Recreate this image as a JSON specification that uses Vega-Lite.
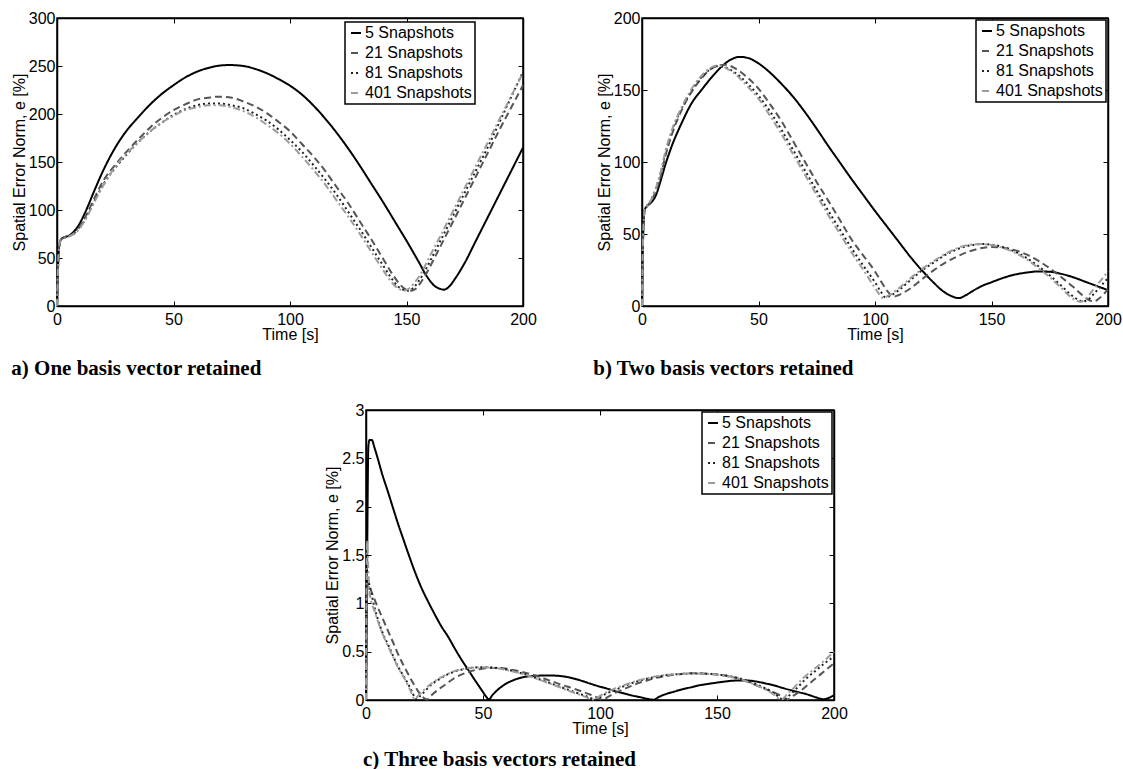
{
"$schema": "https://vega.github.io/schema/vega-lite/v6.json",
"background": "white",
"padding": {"left": 10, "top": 9, "right": 0, "bottom": 0},
"datasets": {
"a": [
{"s":"5 Snapshots","t":0,"e":0},{"s":"5 Snapshots","t":0.3,"e":30},{"s":"5 Snapshots","t":0.7,"e":55},{"s":"5 Snapshots","t":1.2,"e":66},{"s":"5 Snapshots","t":2,"e":70},{"s":"5 Snapshots","t":3.5,"e":72},{"s":"5 Snapshots","t":5,"e":73},{"s":"5 Snapshots","t":7,"e":77},{"s":"5 Snapshots","t":9,"e":83},{"s":"5 Snapshots","t":12,"e":97},{"s":"5 Snapshots","t":16,"e":120},{"s":"5 Snapshots","t":20,"e":142},{"s":"5 Snapshots","t":25,"e":165},{"s":"5 Snapshots","t":30,"e":183},{"s":"5 Snapshots","t":35,"e":197},{"s":"5 Snapshots","t":40,"e":210},{"s":"5 Snapshots","t":45,"e":221},{"s":"5 Snapshots","t":50,"e":230},{"s":"5 Snapshots","t":55,"e":238},{"s":"5 Snapshots","t":60,"e":244},{"s":"5 Snapshots","t":65,"e":248},{"s":"5 Snapshots","t":70,"e":250.5},{"s":"5 Snapshots","t":74,"e":251},{"s":"5 Snapshots","t":80,"e":250},{"s":"5 Snapshots","t":85,"e":247},{"s":"5 Snapshots","t":90,"e":242.5},{"s":"5 Snapshots","t":95,"e":236.5},{"s":"5 Snapshots","t":100,"e":229.5},{"s":"5 Snapshots","t":105,"e":220.5},{"s":"5 Snapshots","t":110,"e":209},{"s":"5 Snapshots","t":115,"e":195.5},{"s":"5 Snapshots","t":120,"e":180.5},{"s":"5 Snapshots","t":125,"e":164},{"s":"5 Snapshots","t":130,"e":146},{"s":"5 Snapshots","t":135,"e":127},{"s":"5 Snapshots","t":140,"e":108},{"s":"5 Snapshots","t":145,"e":88},{"s":"5 Snapshots","t":150,"e":68},{"s":"5 Snapshots","t":155,"e":47},{"s":"5 Snapshots","t":159,"e":30},{"s":"5 Snapshots","t":162,"e":21},{"s":"5 Snapshots","t":164.5,"e":17.8},{"s":"5 Snapshots","t":166,"e":17},{"s":"5 Snapshots","t":168,"e":19.5},{"s":"5 Snapshots","t":171,"e":29},{"s":"5 Snapshots","t":175,"e":45},{"s":"5 Snapshots","t":180,"e":69},{"s":"5 Snapshots","t":185,"e":93},{"s":"5 Snapshots","t":190,"e":117},{"s":"5 Snapshots","t":195,"e":141},{"s":"5 Snapshots","t":200,"e":165},
{"s":"21 Snapshots","t":0,"e":0},{"s":"21 Snapshots","t":0.3,"e":30},{"s":"21 Snapshots","t":0.7,"e":55},{"s":"21 Snapshots","t":1.2,"e":66},{"s":"21 Snapshots","t":2,"e":70},{"s":"21 Snapshots","t":3.5,"e":71.5},{"s":"21 Snapshots","t":5,"e":72.5},{"s":"21 Snapshots","t":7,"e":75},{"s":"21 Snapshots","t":9,"e":80},{"s":"21 Snapshots","t":12,"e":92},{"s":"21 Snapshots","t":16,"e":112},{"s":"21 Snapshots","t":20,"e":131},{"s":"21 Snapshots","t":25,"e":147},{"s":"21 Snapshots","t":30,"e":161},{"s":"21 Snapshots","t":35,"e":174},{"s":"21 Snapshots","t":40,"e":186},{"s":"21 Snapshots","t":45,"e":196},{"s":"21 Snapshots","t":50,"e":204},{"s":"21 Snapshots","t":55,"e":210},{"s":"21 Snapshots","t":60,"e":215},{"s":"21 Snapshots","t":65,"e":217},{"s":"21 Snapshots","t":69,"e":218},{"s":"21 Snapshots","t":75,"e":217},{"s":"21 Snapshots","t":80,"e":213},{"s":"21 Snapshots","t":85,"e":208},{"s":"21 Snapshots","t":90,"e":201},{"s":"21 Snapshots","t":95,"e":192},{"s":"21 Snapshots","t":100,"e":182},{"s":"21 Snapshots","t":105,"e":169},{"s":"21 Snapshots","t":110,"e":156},{"s":"21 Snapshots","t":115,"e":141},{"s":"21 Snapshots","t":120,"e":124},{"s":"21 Snapshots","t":125,"e":107},{"s":"21 Snapshots","t":130,"e":88},{"s":"21 Snapshots","t":135,"e":69},{"s":"21 Snapshots","t":140,"e":49},{"s":"21 Snapshots","t":144,"e":33},{"s":"21 Snapshots","t":147,"e":23},{"s":"21 Snapshots","t":149.5,"e":17.5},{"s":"21 Snapshots","t":152,"e":16},{"s":"21 Snapshots","t":154,"e":18},{"s":"21 Snapshots","t":156,"e":24},{"s":"21 Snapshots","t":159,"e":36},{"s":"21 Snapshots","t":162,"e":50},{"s":"21 Snapshots","t":166,"e":69},{"s":"21 Snapshots","t":170,"e":88},{"s":"21 Snapshots","t":175,"e":112},{"s":"21 Snapshots","t":180,"e":136},{"s":"21 Snapshots","t":185,"e":160},{"s":"21 Snapshots","t":190,"e":184},{"s":"21 Snapshots","t":195,"e":207},{"s":"21 Snapshots","t":200,"e":230},
{"s":"81 Snapshots","t":0,"e":0},{"s":"81 Snapshots","t":0.3,"e":30},{"s":"81 Snapshots","t":0.7,"e":55},{"s":"81 Snapshots","t":1.2,"e":66},{"s":"81 Snapshots","t":2,"e":70},{"s":"81 Snapshots","t":3.5,"e":71.5},{"s":"81 Snapshots","t":5,"e":72.5},{"s":"81 Snapshots","t":7,"e":75},{"s":"81 Snapshots","t":9,"e":79},{"s":"81 Snapshots","t":12,"e":90},{"s":"81 Snapshots","t":16,"e":109},{"s":"81 Snapshots","t":20,"e":127},{"s":"81 Snapshots","t":25,"e":144},{"s":"81 Snapshots","t":30,"e":158},{"s":"81 Snapshots","t":35,"e":171},{"s":"81 Snapshots","t":40,"e":182},{"s":"81 Snapshots","t":45,"e":191},{"s":"81 Snapshots","t":50,"e":199},{"s":"81 Snapshots","t":55,"e":205},{"s":"81 Snapshots","t":60,"e":209},{"s":"81 Snapshots","t":65,"e":211},{"s":"81 Snapshots","t":68,"e":211},{"s":"81 Snapshots","t":72,"e":210.5},{"s":"81 Snapshots","t":75,"e":209},{"s":"81 Snapshots","t":80,"e":206},{"s":"81 Snapshots","t":85,"e":200},{"s":"81 Snapshots","t":90,"e":193},{"s":"81 Snapshots","t":95,"e":184},{"s":"81 Snapshots","t":100,"e":173},{"s":"81 Snapshots","t":105,"e":161},{"s":"81 Snapshots","t":110,"e":147},{"s":"81 Snapshots","t":115,"e":132},{"s":"81 Snapshots","t":120,"e":116},{"s":"81 Snapshots","t":125,"e":98},{"s":"81 Snapshots","t":130,"e":80},{"s":"81 Snapshots","t":135,"e":61},{"s":"81 Snapshots","t":140,"e":42},{"s":"81 Snapshots","t":143.5,"e":29},{"s":"81 Snapshots","t":146.5,"e":20},{"s":"81 Snapshots","t":148.5,"e":17},{"s":"81 Snapshots","t":150.5,"e":16},{"s":"81 Snapshots","t":152.5,"e":18},{"s":"81 Snapshots","t":155,"e":25},{"s":"81 Snapshots","t":158,"e":37},{"s":"81 Snapshots","t":161,"e":51},{"s":"81 Snapshots","t":165,"e":70},{"s":"81 Snapshots","t":170,"e":94},{"s":"81 Snapshots","t":176,"e":123},{"s":"81 Snapshots","t":180,"e":142},{"s":"81 Snapshots","t":185,"e":166},{"s":"81 Snapshots","t":190,"e":192},{"s":"81 Snapshots","t":195,"e":218},{"s":"81 Snapshots","t":200,"e":244},
{"s":"401 Snapshots","t":0,"e":0},{"s":"401 Snapshots","t":0.3,"e":30},{"s":"401 Snapshots","t":0.7,"e":55},{"s":"401 Snapshots","t":1.2,"e":66},{"s":"401 Snapshots","t":2,"e":70},{"s":"401 Snapshots","t":3.5,"e":71.5},{"s":"401 Snapshots","t":5,"e":72.5},{"s":"401 Snapshots","t":7,"e":75},{"s":"401 Snapshots","t":9,"e":79},{"s":"401 Snapshots","t":12,"e":89},{"s":"401 Snapshots","t":16,"e":108},{"s":"401 Snapshots","t":20,"e":126},{"s":"401 Snapshots","t":25,"e":145},{"s":"401 Snapshots","t":30,"e":159},{"s":"401 Snapshots","t":35,"e":171},{"s":"401 Snapshots","t":40,"e":182},{"s":"401 Snapshots","t":45,"e":191},{"s":"401 Snapshots","t":50,"e":198},{"s":"401 Snapshots","t":55,"e":204},{"s":"401 Snapshots","t":60,"e":207},{"s":"401 Snapshots","t":65,"e":209},{"s":"401 Snapshots","t":70,"e":209},{"s":"401 Snapshots","t":75,"e":207},{"s":"401 Snapshots","t":80,"e":203},{"s":"401 Snapshots","t":85,"e":197},{"s":"401 Snapshots","t":90,"e":189},{"s":"401 Snapshots","t":95,"e":180},{"s":"401 Snapshots","t":100,"e":169},{"s":"401 Snapshots","t":105,"e":156},{"s":"401 Snapshots","t":110,"e":142},{"s":"401 Snapshots","t":115,"e":127},{"s":"401 Snapshots","t":120,"e":110},{"s":"401 Snapshots","t":125,"e":93},{"s":"401 Snapshots","t":130,"e":75},{"s":"401 Snapshots","t":135,"e":56},{"s":"401 Snapshots","t":139,"e":41},{"s":"401 Snapshots","t":142,"e":30},{"s":"401 Snapshots","t":145,"e":21},{"s":"401 Snapshots","t":147,"e":17.5},{"s":"401 Snapshots","t":149,"e":16},{"s":"401 Snapshots","t":151,"e":18},{"s":"401 Snapshots","t":153,"e":23},{"s":"401 Snapshots","t":156,"e":33},{"s":"401 Snapshots","t":160,"e":52},{"s":"401 Snapshots","t":165,"e":75},{"s":"401 Snapshots","t":170,"e":99},{"s":"401 Snapshots","t":175,"e":123},{"s":"401 Snapshots","t":180,"e":147},{"s":"401 Snapshots","t":185,"e":171},{"s":"401 Snapshots","t":190,"e":195},{"s":"401 Snapshots","t":195,"e":219},{"s":"401 Snapshots","t":200,"e":243}
],
"b": [
{"s":"5 Snapshots","t":0,"e":0},{"s":"5 Snapshots","t":0.3,"e":35},{"s":"5 Snapshots","t":0.7,"e":58},{"s":"5 Snapshots","t":1.2,"e":67},{"s":"5 Snapshots","t":2,"e":69},{"s":"5 Snapshots","t":4,"e":72},{"s":"5 Snapshots","t":6,"e":77},{"s":"5 Snapshots","t":8,"e":87},{"s":"5 Snapshots","t":10,"e":98},{"s":"5 Snapshots","t":13,"e":112},{"s":"5 Snapshots","t":17,"e":127},{"s":"5 Snapshots","t":21,"e":140},{"s":"5 Snapshots","t":26,"e":151},{"s":"5 Snapshots","t":30,"e":159},{"s":"5 Snapshots","t":34,"e":166},{"s":"5 Snapshots","t":38,"e":171},{"s":"5 Snapshots","t":42,"e":173},{"s":"5 Snapshots","t":46,"e":172},{"s":"5 Snapshots","t":50,"e":168.5},{"s":"5 Snapshots","t":55,"e":162},{"s":"5 Snapshots","t":60,"e":154},{"s":"5 Snapshots","t":65,"e":145},{"s":"5 Snapshots","t":70,"e":134.5},{"s":"5 Snapshots","t":75,"e":123},{"s":"5 Snapshots","t":80,"e":111},{"s":"5 Snapshots","t":85,"e":99.5},{"s":"5 Snapshots","t":90,"e":88},{"s":"5 Snapshots","t":95,"e":77},{"s":"5 Snapshots","t":100,"e":66},{"s":"5 Snapshots","t":105,"e":55.5},{"s":"5 Snapshots","t":110,"e":45},{"s":"5 Snapshots","t":115,"e":34.5},{"s":"5 Snapshots","t":120,"e":25},{"s":"5 Snapshots","t":125,"e":16.5},{"s":"5 Snapshots","t":129,"e":10.5},{"s":"5 Snapshots","t":132,"e":7.5},{"s":"5 Snapshots","t":136,"e":5.5},{"s":"5 Snapshots","t":139,"e":7.5},{"s":"5 Snapshots","t":142,"e":10.5},{"s":"5 Snapshots","t":146,"e":14},{"s":"5 Snapshots","t":150,"e":16.5},{"s":"5 Snapshots","t":155,"e":19.5},{"s":"5 Snapshots","t":160,"e":21.8},{"s":"5 Snapshots","t":165,"e":23.2},{"s":"5 Snapshots","t":170,"e":24},{"s":"5 Snapshots","t":175,"e":23.8},{"s":"5 Snapshots","t":180,"e":22.3},{"s":"5 Snapshots","t":185,"e":20},{"s":"5 Snapshots","t":190,"e":17},{"s":"5 Snapshots","t":195,"e":14},{"s":"5 Snapshots","t":200,"e":11},
{"s":"21 Snapshots","t":0,"e":0},{"s":"21 Snapshots","t":0.3,"e":35},{"s":"21 Snapshots","t":0.7,"e":58},{"s":"21 Snapshots","t":1.2,"e":67},{"s":"21 Snapshots","t":2,"e":69},{"s":"21 Snapshots","t":4,"e":73},{"s":"21 Snapshots","t":6,"e":80},{"s":"21 Snapshots","t":8,"e":90},{"s":"21 Snapshots","t":10,"e":104},{"s":"21 Snapshots","t":13,"e":120},{"s":"21 Snapshots","t":17,"e":136},{"s":"21 Snapshots","t":21,"e":148},{"s":"21 Snapshots","t":25,"e":157},{"s":"21 Snapshots","t":29,"e":164},{"s":"21 Snapshots","t":33,"e":167},{"s":"21 Snapshots","t":36,"e":167.5},{"s":"21 Snapshots","t":40,"e":165},{"s":"21 Snapshots","t":45,"e":159},{"s":"21 Snapshots","t":50,"e":151},{"s":"21 Snapshots","t":55,"e":140},{"s":"21 Snapshots","t":60,"e":128},{"s":"21 Snapshots","t":65,"e":114},{"s":"21 Snapshots","t":70,"e":100},{"s":"21 Snapshots","t":75,"e":86},{"s":"21 Snapshots","t":80,"e":73},{"s":"21 Snapshots","t":85,"e":59.5},{"s":"21 Snapshots","t":90,"e":46},{"s":"21 Snapshots","t":95,"e":35},{"s":"21 Snapshots","t":100,"e":24},{"s":"21 Snapshots","t":103,"e":16},{"s":"21 Snapshots","t":105.5,"e":10},{"s":"21 Snapshots","t":108,"e":6.5},{"s":"21 Snapshots","t":110,"e":7.5},{"s":"21 Snapshots","t":115,"e":12},{"s":"21 Snapshots","t":120,"e":18.4},{"s":"21 Snapshots","t":125,"e":24.6},{"s":"21 Snapshots","t":130,"e":30},{"s":"21 Snapshots","t":135,"e":34.2},{"s":"21 Snapshots","t":140,"e":37.7},{"s":"21 Snapshots","t":145,"e":40},{"s":"21 Snapshots","t":150,"e":41},{"s":"21 Snapshots","t":155,"e":40.5},{"s":"21 Snapshots","t":160,"e":38.8},{"s":"21 Snapshots","t":165,"e":35.8},{"s":"21 Snapshots","t":170,"e":31.5},{"s":"21 Snapshots","t":175,"e":26.2},{"s":"21 Snapshots","t":180,"e":20},{"s":"21 Snapshots","t":185,"e":13.3},{"s":"21 Snapshots","t":189,"e":7.5},{"s":"21 Snapshots","t":192,"e":4},{"s":"21 Snapshots","t":194,"e":3.2},{"s":"21 Snapshots","t":196,"e":5},{"s":"21 Snapshots","t":198,"e":8},{"s":"21 Snapshots","t":200,"e":11.5},
{"s":"81 Snapshots","t":0,"e":0},{"s":"81 Snapshots","t":0.3,"e":35},{"s":"81 Snapshots","t":0.7,"e":58},{"s":"81 Snapshots","t":1.2,"e":67},{"s":"81 Snapshots","t":2,"e":69},{"s":"81 Snapshots","t":4,"e":74},{"s":"81 Snapshots","t":6,"e":82},{"s":"81 Snapshots","t":8,"e":92},{"s":"81 Snapshots","t":10,"e":106},{"s":"81 Snapshots","t":13,"e":122},{"s":"81 Snapshots","t":17,"e":137},{"s":"81 Snapshots","t":21,"e":149},{"s":"81 Snapshots","t":25,"e":158},{"s":"81 Snapshots","t":29,"e":164},{"s":"81 Snapshots","t":32,"e":166.5},{"s":"81 Snapshots","t":35,"e":166},{"s":"81 Snapshots","t":40,"e":162},{"s":"81 Snapshots","t":45,"e":155},{"s":"81 Snapshots","t":50,"e":146},{"s":"81 Snapshots","t":55,"e":135},{"s":"81 Snapshots","t":60,"e":122},{"s":"81 Snapshots","t":65,"e":108},{"s":"81 Snapshots","t":70,"e":94},{"s":"81 Snapshots","t":75,"e":80},{"s":"81 Snapshots","t":80,"e":66},{"s":"81 Snapshots","t":85,"e":53},{"s":"81 Snapshots","t":90,"e":40},{"s":"81 Snapshots","t":95,"e":28},{"s":"81 Snapshots","t":100,"e":16.5},{"s":"81 Snapshots","t":102.5,"e":10},{"s":"81 Snapshots","t":104.5,"e":6},{"s":"81 Snapshots","t":107,"e":7.5},{"s":"81 Snapshots","t":110,"e":10.7},{"s":"81 Snapshots","t":115,"e":17.7},{"s":"81 Snapshots","t":120,"e":24.5},{"s":"81 Snapshots","t":125,"e":30},{"s":"81 Snapshots","t":130,"e":35.3},{"s":"81 Snapshots","t":135,"e":39.2},{"s":"81 Snapshots","t":140,"e":41.8},{"s":"81 Snapshots","t":146,"e":43},{"s":"81 Snapshots","t":150,"e":42.6},{"s":"81 Snapshots","t":155,"e":40.9},{"s":"81 Snapshots","t":160,"e":37.8},{"s":"81 Snapshots","t":165,"e":33.4},{"s":"81 Snapshots","t":170,"e":27.8},{"s":"81 Snapshots","t":175,"e":21.2},{"s":"81 Snapshots","t":180,"e":14},{"s":"81 Snapshots","t":184,"e":8},{"s":"81 Snapshots","t":187,"e":4.5},{"s":"81 Snapshots","t":189,"e":3.2},{"s":"81 Snapshots","t":191.5,"e":4.5},{"s":"81 Snapshots","t":194,"e":8.5},{"s":"81 Snapshots","t":197,"e":14},{"s":"81 Snapshots","t":200,"e":19.5},
{"s":"401 Snapshots","t":0,"e":0},{"s":"401 Snapshots","t":0.3,"e":35},{"s":"401 Snapshots","t":0.7,"e":58},{"s":"401 Snapshots","t":1.2,"e":67},{"s":"401 Snapshots","t":2,"e":69},{"s":"401 Snapshots","t":4,"e":74},{"s":"401 Snapshots","t":6,"e":82},{"s":"401 Snapshots","t":8,"e":93},{"s":"401 Snapshots","t":10,"e":107},{"s":"401 Snapshots","t":13,"e":123},{"s":"401 Snapshots","t":17,"e":138},{"s":"401 Snapshots","t":21,"e":150},{"s":"401 Snapshots","t":25,"e":159},{"s":"401 Snapshots","t":29,"e":165},{"s":"401 Snapshots","t":32,"e":167},{"s":"401 Snapshots","t":35,"e":166},{"s":"401 Snapshots","t":40,"e":161},{"s":"401 Snapshots","t":45,"e":153},{"s":"401 Snapshots","t":50,"e":144},{"s":"401 Snapshots","t":55,"e":132},{"s":"401 Snapshots","t":60,"e":119},{"s":"401 Snapshots","t":65,"e":105},{"s":"401 Snapshots","t":70,"e":91},{"s":"401 Snapshots","t":75,"e":77},{"s":"401 Snapshots","t":80,"e":63},{"s":"401 Snapshots","t":85,"e":50},{"s":"401 Snapshots","t":90,"e":37},{"s":"401 Snapshots","t":95,"e":25},{"s":"401 Snapshots","t":99,"e":15},{"s":"401 Snapshots","t":101.5,"e":9},{"s":"401 Snapshots","t":103.5,"e":5.5},{"s":"401 Snapshots","t":106,"e":7.5},{"s":"401 Snapshots","t":110,"e":12},{"s":"401 Snapshots","t":115,"e":19},{"s":"401 Snapshots","t":120,"e":25.5},{"s":"401 Snapshots","t":125,"e":31},{"s":"401 Snapshots","t":130,"e":36},{"s":"401 Snapshots","t":135,"e":40},{"s":"401 Snapshots","t":140,"e":42.3},{"s":"401 Snapshots","t":145,"e":43},{"s":"401 Snapshots","t":150,"e":42.3},{"s":"401 Snapshots","t":155,"e":40.3},{"s":"401 Snapshots","t":160,"e":37},{"s":"401 Snapshots","t":165,"e":32.5},{"s":"401 Snapshots","t":170,"e":26.5},{"s":"401 Snapshots","t":175,"e":20},{"s":"401 Snapshots","t":180,"e":12.5},{"s":"401 Snapshots","t":183.5,"e":7},{"s":"401 Snapshots","t":186,"e":4},{"s":"401 Snapshots","t":188,"e":3},{"s":"401 Snapshots","t":190.5,"e":5},{"s":"401 Snapshots","t":193,"e":10},{"s":"401 Snapshots","t":196.5,"e":17},{"s":"401 Snapshots","t":200,"e":24}
],
"c": [
{"s":"5 Snapshots","t":0,"e":0},{"s":"5 Snapshots","t":0.5,"e":1.5},{"s":"5 Snapshots","t":1,"e":2.62},{"s":"5 Snapshots","t":1.5,"e":2.69},{"s":"5 Snapshots","t":2.5,"e":2.69},{"s":"5 Snapshots","t":3.5,"e":2.62},{"s":"5 Snapshots","t":5,"e":2.5},{"s":"5 Snapshots","t":7,"e":2.33},{"s":"5 Snapshots","t":9.3,"e":2.16},{"s":"5 Snapshots","t":11.5,"e":1.99},{"s":"5 Snapshots","t":13.6,"e":1.83},{"s":"5 Snapshots","t":16,"e":1.66},{"s":"5 Snapshots","t":18,"e":1.52},{"s":"5 Snapshots","t":21,"e":1.32},{"s":"5 Snapshots","t":23.7,"e":1.16},{"s":"5 Snapshots","t":26.5,"e":1.02},{"s":"5 Snapshots","t":29.5,"e":0.88},{"s":"5 Snapshots","t":32,"e":0.77},{"s":"5 Snapshots","t":35.2,"e":0.65},{"s":"5 Snapshots","t":38,"e":0.53},{"s":"5 Snapshots","t":41,"e":0.41},{"s":"5 Snapshots","t":44,"e":0.3},{"s":"5 Snapshots","t":46.7,"e":0.2},{"s":"5 Snapshots","t":49.5,"e":0.1},{"s":"5 Snapshots","t":51.5,"e":0.03},{"s":"5 Snapshots","t":52.5,"e":0.005},{"s":"5 Snapshots","t":54,"e":0.05},{"s":"5 Snapshots","t":56.5,"e":0.11},{"s":"5 Snapshots","t":59.6,"e":0.165},{"s":"5 Snapshots","t":63,"e":0.205},{"s":"5 Snapshots","t":66.8,"e":0.234},{"s":"5 Snapshots","t":70,"e":0.246},{"s":"5 Snapshots","t":74,"e":0.252},{"s":"5 Snapshots","t":78,"e":0.254},{"s":"5 Snapshots","t":81,"e":0.252},{"s":"5 Snapshots","t":85,"e":0.242},{"s":"5 Snapshots","t":88,"e":0.227},{"s":"5 Snapshots","t":92,"e":0.2},{"s":"5 Snapshots","t":95.5,"e":0.172},{"s":"5 Snapshots","t":99,"e":0.145},{"s":"5 Snapshots","t":102.7,"e":0.12},{"s":"5 Snapshots","t":106,"e":0.095},{"s":"5 Snapshots","t":110,"e":0.07},{"s":"5 Snapshots","t":114,"e":0.045},{"s":"5 Snapshots","t":117,"e":0.03},{"s":"5 Snapshots","t":120,"e":0.013},{"s":"5 Snapshots","t":123,"e":0.003},{"s":"5 Snapshots","t":125,"e":0.03},{"s":"5 Snapshots","t":128,"e":0.06},{"s":"5 Snapshots","t":131.5,"e":0.085},{"s":"5 Snapshots","t":135,"e":0.11},{"s":"5 Snapshots","t":138.6,"e":0.13},{"s":"5 Snapshots","t":142,"e":0.15},{"s":"5 Snapshots","t":145.8,"e":0.165},{"s":"5 Snapshots","t":150,"e":0.18},{"s":"5 Snapshots","t":153,"e":0.19},{"s":"5 Snapshots","t":157,"e":0.2},{"s":"5 Snapshots","t":160,"e":0.203},{"s":"5 Snapshots","t":164,"e":0.2},{"s":"5 Snapshots","t":167,"e":0.19},{"s":"5 Snapshots","t":171,"e":0.17},{"s":"5 Snapshots","t":174.6,"e":0.15},{"s":"5 Snapshots","t":178,"e":0.125},{"s":"5 Snapshots","t":181.8,"e":0.1},{"s":"5 Snapshots","t":185,"e":0.08},{"s":"5 Snapshots","t":189,"e":0.055},{"s":"5 Snapshots","t":192,"e":0.03},{"s":"5 Snapshots","t":195.4,"e":0.008},{"s":"5 Snapshots","t":197,"e":0.015},{"s":"5 Snapshots","t":200,"e":0.05},
{"s":"21 Snapshots","t":0,"e":0},{"s":"21 Snapshots","t":0.3,"e":0.9},{"s":"21 Snapshots","t":0.8,"e":1.2},{"s":"21 Snapshots","t":1.5,"e":1.17},{"s":"21 Snapshots","t":2.2,"e":1.13},{"s":"21 Snapshots","t":3.5,"e":1.05},{"s":"21 Snapshots","t":5,"e":0.96},{"s":"21 Snapshots","t":7,"e":0.85},{"s":"21 Snapshots","t":9.3,"e":0.72},{"s":"21 Snapshots","t":11.5,"e":0.6},{"s":"21 Snapshots","t":13.6,"e":0.48},{"s":"21 Snapshots","t":16,"e":0.36},{"s":"21 Snapshots","t":18,"e":0.27},{"s":"21 Snapshots","t":20,"e":0.18},{"s":"21 Snapshots","t":22.3,"e":0.09},{"s":"21 Snapshots","t":24.3,"e":0.03},{"s":"21 Snapshots","t":26,"e":0.005},{"s":"21 Snapshots","t":28,"e":0.05},{"s":"21 Snapshots","t":31,"e":0.11},{"s":"21 Snapshots","t":34.5,"e":0.17},{"s":"21 Snapshots","t":38,"e":0.23},{"s":"21 Snapshots","t":41.5,"e":0.27},{"s":"21 Snapshots","t":45,"e":0.3},{"s":"21 Snapshots","t":48.5,"e":0.318},{"s":"21 Snapshots","t":52,"e":0.33},{"s":"21 Snapshots","t":55.5,"e":0.332},{"s":"21 Snapshots","t":59.6,"e":0.327},{"s":"21 Snapshots","t":63,"e":0.31},{"s":"21 Snapshots","t":66.8,"e":0.29},{"s":"21 Snapshots","t":70,"e":0.27},{"s":"21 Snapshots","t":74,"e":0.24},{"s":"21 Snapshots","t":77.5,"e":0.21},{"s":"21 Snapshots","t":81,"e":0.18},{"s":"21 Snapshots","t":84.5,"e":0.15},{"s":"21 Snapshots","t":88,"e":0.124},{"s":"21 Snapshots","t":92,"e":0.09},{"s":"21 Snapshots","t":95.5,"e":0.06},{"s":"21 Snapshots","t":98.5,"e":0.03},{"s":"21 Snapshots","t":101,"e":0.005},{"s":"21 Snapshots","t":104,"e":0.04},{"s":"21 Snapshots","t":107,"e":0.08},{"s":"21 Snapshots","t":112,"e":0.13},{"s":"21 Snapshots","t":117,"e":0.18},{"s":"21 Snapshots","t":120.5,"e":0.205},{"s":"21 Snapshots","t":124,"e":0.23},{"s":"21 Snapshots","t":130,"e":0.255},{"s":"21 Snapshots","t":135,"e":0.27},{"s":"21 Snapshots","t":140,"e":0.278},{"s":"21 Snapshots","t":146,"e":0.272},{"s":"21 Snapshots","t":150,"e":0.265},{"s":"21 Snapshots","t":153,"e":0.255},{"s":"21 Snapshots","t":157,"e":0.235},{"s":"21 Snapshots","t":160,"e":0.215},{"s":"21 Snapshots","t":163.5,"e":0.185},{"s":"21 Snapshots","t":167,"e":0.15},{"s":"21 Snapshots","t":171,"e":0.11},{"s":"21 Snapshots","t":174.6,"e":0.075},{"s":"21 Snapshots","t":177.5,"e":0.04},{"s":"21 Snapshots","t":180,"e":0.005},{"s":"21 Snapshots","t":183,"e":0.05},{"s":"21 Snapshots","t":186,"e":0.1},{"s":"21 Snapshots","t":189,"e":0.16},{"s":"21 Snapshots","t":192.5,"e":0.23},{"s":"21 Snapshots","t":196,"e":0.3},{"s":"21 Snapshots","t":200,"e":0.38},
{"s":"81 Snapshots","t":0,"e":0},{"s":"81 Snapshots","t":0.3,"e":0.9},{"s":"81 Snapshots","t":0.8,"e":1.25},{"s":"81 Snapshots","t":1.4,"e":1.2},{"s":"81 Snapshots","t":2.5,"e":1.08},{"s":"81 Snapshots","t":3.5,"e":0.97},{"s":"81 Snapshots","t":5,"e":0.84},{"s":"81 Snapshots","t":7,"e":0.7},{"s":"81 Snapshots","t":9.3,"e":0.58},{"s":"81 Snapshots","t":11.5,"e":0.46},{"s":"81 Snapshots","t":13.6,"e":0.35},{"s":"81 Snapshots","t":16,"e":0.25},{"s":"81 Snapshots","t":18,"e":0.165},{"s":"81 Snapshots","t":19.8,"e":0.08},{"s":"81 Snapshots","t":21.3,"e":0.01},{"s":"81 Snapshots","t":23,"e":0.04},{"s":"81 Snapshots","t":25.5,"e":0.1},{"s":"81 Snapshots","t":28,"e":0.16},{"s":"81 Snapshots","t":31,"e":0.21},{"s":"81 Snapshots","t":34.5,"e":0.26},{"s":"81 Snapshots","t":38,"e":0.295},{"s":"81 Snapshots","t":42,"e":0.32},{"s":"81 Snapshots","t":46,"e":0.335},{"s":"81 Snapshots","t":50,"e":0.34},{"s":"81 Snapshots","t":54,"e":0.337},{"s":"81 Snapshots","t":58,"e":0.325},{"s":"81 Snapshots","t":62,"e":0.305},{"s":"81 Snapshots","t":66,"e":0.28},{"s":"81 Snapshots","t":70,"e":0.25},{"s":"81 Snapshots","t":74,"e":0.215},{"s":"81 Snapshots","t":78,"e":0.18},{"s":"81 Snapshots","t":82,"e":0.145},{"s":"81 Snapshots","t":86,"e":0.11},{"s":"81 Snapshots","t":90,"e":0.075},{"s":"81 Snapshots","t":93.5,"e":0.045},{"s":"81 Snapshots","t":96.5,"e":0.015},{"s":"81 Snapshots","t":98,"e":0.005},{"s":"81 Snapshots","t":100,"e":0.03},{"s":"81 Snapshots","t":103,"e":0.07},{"s":"81 Snapshots","t":107,"e":0.11},{"s":"81 Snapshots","t":112,"e":0.16},{"s":"81 Snapshots","t":117,"e":0.2},{"s":"81 Snapshots","t":122,"e":0.23},{"s":"81 Snapshots","t":127,"e":0.252},{"s":"81 Snapshots","t":132,"e":0.265},{"s":"81 Snapshots","t":137,"e":0.272},{"s":"81 Snapshots","t":142,"e":0.274},{"s":"81 Snapshots","t":147,"e":0.27},{"s":"81 Snapshots","t":152,"e":0.258},{"s":"81 Snapshots","t":157,"e":0.24},{"s":"81 Snapshots","t":161,"e":0.215},{"s":"81 Snapshots","t":165,"e":0.18},{"s":"81 Snapshots","t":169,"e":0.14},{"s":"81 Snapshots","t":172.5,"e":0.1},{"s":"81 Snapshots","t":175,"e":0.06},{"s":"81 Snapshots","t":177,"e":0.02},{"s":"81 Snapshots","t":178.5,"e":0.005},{"s":"81 Snapshots","t":181,"e":0.05},{"s":"81 Snapshots","t":184,"e":0.12},{"s":"81 Snapshots","t":188,"e":0.22},{"s":"81 Snapshots","t":192,"e":0.3},{"s":"81 Snapshots","t":196,"e":0.38},{"s":"81 Snapshots","t":200,"e":0.45},
{"s":"401 Snapshots","t":0,"e":0},{"s":"401 Snapshots","t":0.2,"e":1.0},{"s":"401 Snapshots","t":0.5,"e":1.65},{"s":"401 Snapshots","t":0.9,"e":1.4},{"s":"401 Snapshots","t":1.5,"e":1.12},{"s":"401 Snapshots","t":2.5,"e":1.0},{"s":"401 Snapshots","t":3.5,"e":0.93},{"s":"401 Snapshots","t":5,"e":0.82},{"s":"401 Snapshots","t":7,"e":0.69},{"s":"401 Snapshots","t":9.3,"e":0.56},{"s":"401 Snapshots","t":11.5,"e":0.45},{"s":"401 Snapshots","t":13.6,"e":0.34},{"s":"401 Snapshots","t":16,"e":0.24},{"s":"401 Snapshots","t":18,"e":0.15},{"s":"401 Snapshots","t":19.5,"e":0.07},{"s":"401 Snapshots","t":20.8,"e":0.01},{"s":"401 Snapshots","t":22.5,"e":0.05},{"s":"401 Snapshots","t":25,"e":0.11},{"s":"401 Snapshots","t":28,"e":0.17},{"s":"401 Snapshots","t":31,"e":0.22},{"s":"401 Snapshots","t":34.5,"e":0.265},{"s":"401 Snapshots","t":38,"e":0.3},{"s":"401 Snapshots","t":42,"e":0.323},{"s":"401 Snapshots","t":46,"e":0.335},{"s":"401 Snapshots","t":50,"e":0.338},{"s":"401 Snapshots","t":54,"e":0.333},{"s":"401 Snapshots","t":58,"e":0.32},{"s":"401 Snapshots","t":62,"e":0.3},{"s":"401 Snapshots","t":66,"e":0.275},{"s":"401 Snapshots","t":70,"e":0.245},{"s":"401 Snapshots","t":74,"e":0.21},{"s":"401 Snapshots","t":78,"e":0.175},{"s":"401 Snapshots","t":82,"e":0.14},{"s":"401 Snapshots","t":86,"e":0.1},{"s":"401 Snapshots","t":90,"e":0.065},{"s":"401 Snapshots","t":93.5,"e":0.035},{"s":"401 Snapshots","t":96,"e":0.01},{"s":"401 Snapshots","t":97.5,"e":0.005},{"s":"401 Snapshots","t":99.5,"e":0.035},{"s":"401 Snapshots","t":102.5,"e":0.075},{"s":"401 Snapshots","t":106.5,"e":0.12},{"s":"401 Snapshots","t":111,"e":0.16},{"s":"401 Snapshots","t":116,"e":0.2},{"s":"401 Snapshots","t":121,"e":0.23},{"s":"401 Snapshots","t":126,"e":0.252},{"s":"401 Snapshots","t":131,"e":0.265},{"s":"401 Snapshots","t":136,"e":0.272},{"s":"401 Snapshots","t":141,"e":0.274},{"s":"401 Snapshots","t":146,"e":0.27},{"s":"401 Snapshots","t":151,"e":0.258},{"s":"401 Snapshots","t":156,"e":0.238},{"s":"401 Snapshots","t":160,"e":0.215},{"s":"401 Snapshots","t":164,"e":0.18},{"s":"401 Snapshots","t":168,"e":0.14},{"s":"401 Snapshots","t":171.5,"e":0.1},{"s":"401 Snapshots","t":174,"e":0.06},{"s":"401 Snapshots","t":176,"e":0.02},{"s":"401 Snapshots","t":177.5,"e":0.005},{"s":"401 Snapshots","t":180,"e":0.06},{"s":"401 Snapshots","t":183,"e":0.13},{"s":"401 Snapshots","t":187,"e":0.23},{"s":"401 Snapshots","t":191,"e":0.31},{"s":"401 Snapshots","t":195.5,"e":0.4},{"s":"401 Snapshots","t":200,"e":0.5}
]
},
"vconcat": [
{
"hconcat": [
{
"width": 466, "height": 288,
"data": {"name": "a"},
"title": {"text": "a) One basis vector retained", "orient": "bottom", "anchor": "start", "frame": "bounds", "offset": 16, "dx": 0},
"layer": [
{"mark": {"type": "line", "strokeWidth": 2, "interpolate": "monotone"},
"encoding": {
"x": {"field": "t", "type": "quantitative", "scale": {"domain": [0, 200], "nice": false}, "axis": {"orient": "bottom", "title": "Time [s]", "values": [0, 50, 100, 150, 200]}},
"y": {"field": "e", "type": "quantitative", "scale": {"domain": [0, 300], "nice": false}, "axis": {"orient": "left", "title": "Spatial Error Norm, e [%]", "values": [0, 50, 100, 150, 200, 250, 300]}},
"color": {"field": "s", "type": "nominal", "scale": {"domain": ["5 Snapshots", "21 Snapshots", "81 Snapshots", "401 Snapshots"], "range": ["#000000", "#555555", "#222222", "#9c9c9c"]}, "legend": {"title": null, "orient": "none", "legendX": 288, "legendY": 4}},
"strokeDash": {"field": "s", "type": "nominal", "scale": {"domain": ["5 Snapshots", "21 Snapshots", "81 Snapshots", "401 Snapshots"], "range": [[1, 0], [7, 4], [2, 3], [7, 3, 2, 3]]}, "legend": {"title": null, "orient": "none", "legendX": 288, "legendY": 4}}
}},
{"mark": {"type": "point", "opacity": 0},
"encoding": {
"x": {"field": "t", "type": "quantitative", "scale": {"domain": [0, 200], "nice": false}, "axis": {"orient": "top", "labels": false, "title": null, "values": [0, 50, 100, 150, 200]}},
"y": {"field": "e", "type": "quantitative", "scale": {"domain": [0, 300], "nice": false}, "axis": {"orient": "right", "labels": false, "title": null, "values": [0, 50, 100, 150, 200, 250, 300]}}
}}
],
"resolve": {"axis": {"x": "independent", "y": "independent"}}
},
{
"width": 466, "height": 288,
"data": {"name": "b"},
"title": {"text": "b) Two basis vectors retained", "orient": "bottom", "anchor": "start", "frame": "bounds", "offset": 16, "dx": -3},
"layer": [
{"mark": {"type": "line", "strokeWidth": 2, "interpolate": "monotone"},
"encoding": {
"x": {"field": "t", "type": "quantitative", "scale": {"domain": [0, 200], "nice": false}, "axis": {"orient": "bottom", "title": "Time [s]", "values": [0, 50, 100, 150, 200]}},
"y": {"field": "e", "type": "quantitative", "scale": {"domain": [0, 200], "nice": false}, "axis": {"orient": "left", "title": "Spatial Error Norm, e [%]", "values": [0, 50, 100, 150, 200]}},
"color": {"field": "s", "type": "nominal", "scale": {"domain": ["5 Snapshots", "21 Snapshots", "81 Snapshots", "401 Snapshots"], "range": ["#000000", "#555555", "#222222", "#9c9c9c"]}, "legend": {"title": null, "orient": "top-right", "offset": 2}},
"strokeDash": {"field": "s", "type": "nominal", "scale": {"domain": ["5 Snapshots", "21 Snapshots", "81 Snapshots", "401 Snapshots"], "range": [[1, 0], [7, 4], [2, 3], [7, 3, 2, 3]]}, "legend": {"title": null, "orient": "top-right", "offset": 2}}
}},
{"mark": {"type": "point", "opacity": 0},
"encoding": {
"x": {"field": "t", "type": "quantitative", "scale": {"domain": [0, 200], "nice": false}, "axis": {"orient": "top", "labels": false, "title": null, "values": [0, 50, 100, 150, 200]}},
"y": {"field": "e", "type": "quantitative", "scale": {"domain": [0, 200], "nice": false}, "axis": {"orient": "right", "labels": false, "title": null, "values": [0, 50, 100, 150, 200]}}
}}
],
"resolve": {"axis": {"x": "independent", "y": "independent"}}
}
],
"spacing": 54,
"resolve": {"scale": {"color": "independent", "strokeDash": "independent"}}
},
{
"hconcat": [
{
"width": 267, "height": 10,
"view": {"stroke": null},
"data": {"values": [{"k": 0}]},
"mark": {"type": "point", "opacity": 0}
},
{
"width": 468, "height": 290,
"data": {"name": "c"},
"title": {"text": "c) Three basis vectors retained", "orient": "bottom", "anchor": "start", "frame": "group", "offset": 13, "dx": -3},
"layer": [
{"mark": {"type": "line", "strokeWidth": 2, "interpolate": "monotone"},
"encoding": {
"x": {"field": "t", "type": "quantitative", "scale": {"domain": [0, 200], "nice": false}, "axis": {"orient": "bottom", "title": "Time [s]", "values": [0, 50, 100, 150, 200]}},
"y": {"field": "e", "type": "quantitative", "scale": {"domain": [0, 3], "nice": false}, "axis": {"orient": "left", "title": "Spatial Error Norm, e [%]", "values": [0, 0.5, 1, 1.5, 2, 2.5, 3], "format": "~g"}},
"color": {"field": "s", "type": "nominal", "scale": {"domain": ["5 Snapshots", "21 Snapshots", "81 Snapshots", "401 Snapshots"], "range": ["#000000", "#555555", "#222222", "#9c9c9c"]}, "legend": {"title": null, "orient": "top-right", "offset": 2}},
"strokeDash": {"field": "s", "type": "nominal", "scale": {"domain": ["5 Snapshots", "21 Snapshots", "81 Snapshots", "401 Snapshots"], "range": [[1, 0], [7, 4], [2, 3], [7, 3, 2, 3]]}, "legend": {"title": null, "orient": "top-right", "offset": 2}}
}},
{"mark": {"type": "point", "opacity": 0},
"encoding": {
"x": {"field": "t", "type": "quantitative", "scale": {"domain": [0, 200], "nice": false}, "axis": {"orient": "top", "labels": false, "title": null, "values": [0, 50, 100, 150, 200]}},
"y": {"field": "e", "type": "quantitative", "scale": {"domain": [0, 3], "nice": false}, "axis": {"orient": "right", "labels": false, "title": null, "values": [0, 0.5, 1, 1.5, 2, 2.5, 3]}}
}}
],
"resolve": {"axis": {"x": "independent", "y": "independent"}}
}
],
"spacing": 0,
"resolve": {"scale": {"color": "independent", "strokeDash": "independent"}}
}
],
"spacing": 21,
"resolve": {"scale": {"color": "independent", "strokeDash": "independent"}},
"config": {
"view": {"stroke": "black", "strokeWidth": 1.5},
"font": "Liberation Sans",
"axis": {"labelFont": "Liberation Sans", "labelFontSize": 16, "labelColor": "black", "titleFont": "Liberation Sans", "titleFontSize": 16, "titleFontWeight": "normal", "titleColor": "black", "domainColor": "black", "domainWidth": 1.5, "tickColor": "black", "tickWidth": 1, "tickSize": -5, "grid": false, "labelFlush": false, "labelOverlap": false},
"axisX": {"labelPadding": 10, "titlePadding": -1},
"axisY": {"labelPadding": 7, "titlePadding": 1},
"legend": {"strokeColor": "black", "strokeWidth": 1.5, "fillColor": "white", "padding": 3, "labelFont": "Liberation Sans", "labelFontSize": 16, "labelColor": "black", "symbolType": "stroke", "symbolSize": 100, "symbolStrokeWidth": 2, "labelOffset": 1, "rowPadding": 4, "labelLimit": 300, "symbolOffset": 0},
"title": {"font": "Liberation Serif", "fontSize": 21, "fontWeight": "bold", "color": "black"}
}
}
